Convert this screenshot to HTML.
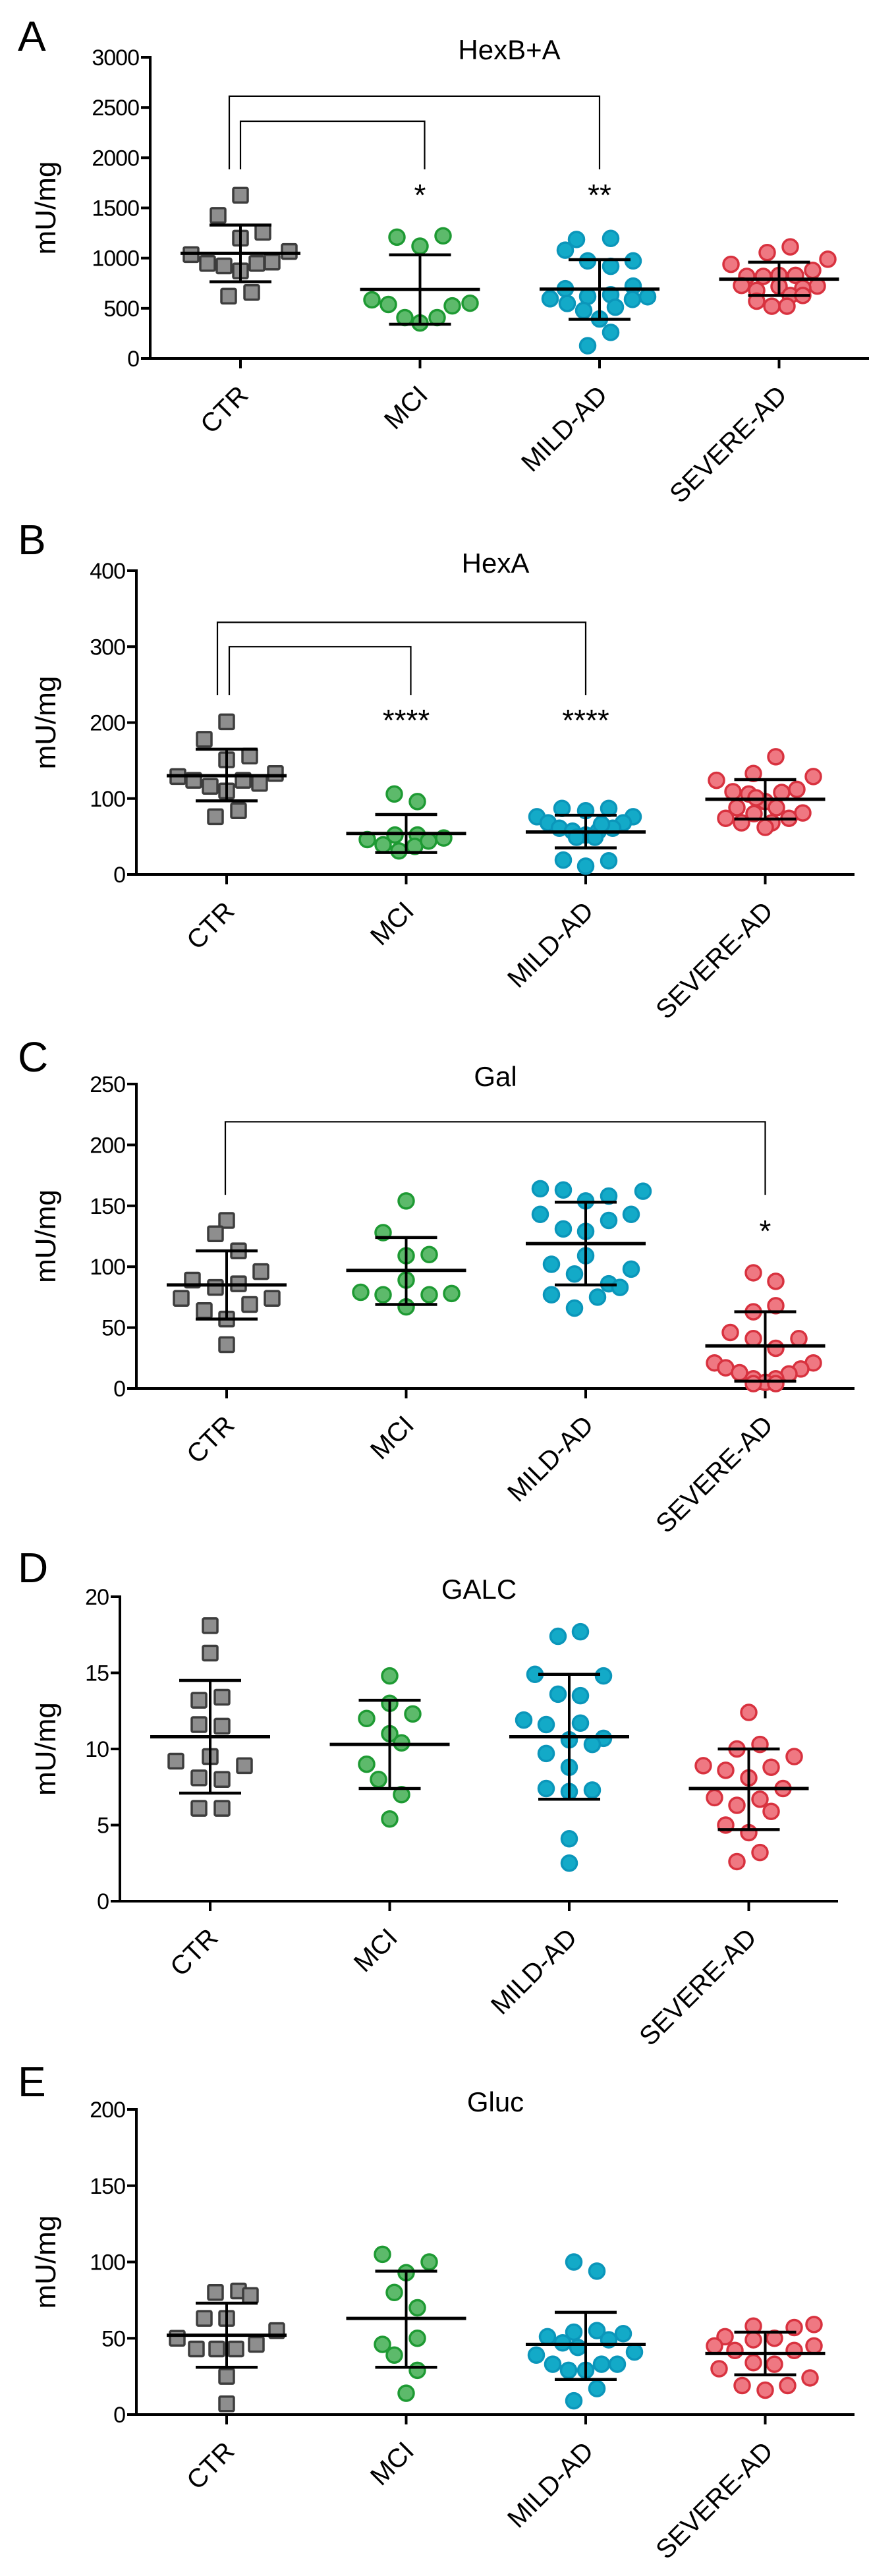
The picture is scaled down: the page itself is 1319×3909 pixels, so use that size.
<!DOCTYPE html>
<html><head><meta charset="utf-8">
<style>
html,body{margin:0;padding:0;background:#fff;}
svg{display:block;font-family:"Liberation Sans",Arial,sans-serif;}
</style></head>
<body>
<svg id="fig" width="1319" height="3909" viewBox="0 0 1319 3909" xmlns="http://www.w3.org/2000/svg"></svg>
<script>
const categories = ["CTR","MCI","MILD-AD","SEVERE-AD"];

// Panel A HexB+A
const aCTR = [1626,1425,1257,1199,1035,1066,947,922,947,960,872,621,658];
const aMCI = [1209,1222,1119,584,538,551,524,407,354,407];
const aMILD = [1186,1196,1079,972,918,972,695,618,635,721,595,615,548,588,478,511,394,260,127];
const aSEV = [1112,1055,938,989,878,818,818,828,828,728,721,678,701,718,628,628,571,521,521];
const aMean = [1048,688,691,790];
const aHi = [1329,1032,985,959];
const aLo = [764,341,391,628];
const aTicks = [0,500,1000,1500,2000,2500,3000];

// Panel B HexA
const bCTR = [201,178,156,151,129,133,124,116,124,120,110,76,84];
const bMCI = [106,96,46,52,52,39,31,37,44,48];
const bMILD = [87,84,87,76,68,76,68,61,57,52,57,61,49,49,19,18,11,66];
const bSEV = [155,133,124,129,109,106,108,112,96,88,80,88,81,74,68,68,74,62,101];
const bMean = [130,54,56,99];
const bHi = [165,79,78,125];
const bLo = [97,29,35,73];
const bTicks = [0,100,200,300,400];

// Panel C Gal
const cCTR = [138,127,113,96,89,83,86,74,74,64,69,57,36];
const cMCI = [154,128,109,110,89,79,77,77,78,67];
const cMILD = [164,163,158,162,154,143,143,131,138,129,109,102,98,94,86,83,77,75,66];
const cSEV = [95,88,63,68,46,41,41,33,21,21,17,16,13,12,8,8,5,4,4];
const cMean = [85,97,119,35];
const cHi = [113,124,153,63];
const cLo = [57,69,85,6];
const cTicks = [0,50,100,150,200,250];

// Panel D GALC
const dCTR = [18.1,16.3,13.2,13.4,11.6,11.5,9.2,9.5,8.9,8.1,8.0,6.1,6.1];
const dMCI = [14.8,13.0,12.3,12.0,11.0,10.4,9.0,8.0,7.0,5.4];
const dMILD = [17.7,17.4,14.9,14.8,13.6,13.5,11.9,11.6,11.7,10.7,10.6,10.3,9.7,8.8,7.4,7.2,7.3,4.1,2.5];
const dSEV = [12.4,10.0,10.3,9.5,8.9,8.6,8.8,8.1,7.4,6.8,6.7,6.3,5.9,5.0,4.5,3.2,2.6];
const dMean = [10.8,10.3,10.8,7.4];
const dHi = [14.5,13.2,14.9,10.0];
const dLo = [7.1,7.4,6.7,4.7];
const dTicks = [0,5,10,15,20];

// Panel E Gluc
const eCTR = [80,81,78,63,63,50,55,43,43,43,46,25,7];
const eMCI = [105,100,93,80,70,46,50,39,29,14];
const eMILD = [100,94,51,54,55,53,47,49,44,39,41,33,33,33,29,29,17,9];
const eSEV = [58,57,59,51,50,49,45,42,42,45,34,33,30,24,19,16,19];
const eMean = [52,63,46,40];
const eHi = [73,94,67,54];
const eLo = [31,31,23,26];
const eTicks = [0,50,100,150,200];

// horizontal jitter (layout only, px)
const jitA = [
 [0,-34,34,0,-75,74,-50,-25,25,48,0,-18,17],
 [-35,35,0,-73,-48,76,49,-23,0,26],
 [-35,17,-52,-18,17,51,-52,-18,17,51,-75,73,-49,50,-24,24,0,17,-18],
 [17,-18,-73,74,51,-49,-24,0,25,-57,58,-34,36,0,17,36,-34,-11,12]];
const jitB = [
 [0,-34,35,0,-74,74,-50,-25,25,50,0,-17,18],
 [-18,17,-59,-17,17,-35,-11,13,34,57],
 [-36,0,35,-74,-57,72,57,-40,-20,0,19,41,-14,14,-34,35,0,24],
 [16,-18,-74,73,-49,-25,25,48,0,-43,-17,17,57,-60,-36,10,36,0,-14]];
const jitC = [
 [0,-17,18,52,-52,-17,18,-69,69,-34,35,0,0],
 [0,-35,0,35,0,-69,-35,35,69,0],
 [-69,-34,35,87,0,-69,69,-34,35,0,0,-52,69,-17,35,52,-52,18,-17],
 [-18,16,-18,16,-53,-18,51,16,-77,73,-60,54,-39,36,-18,16,0,-18,16]];
const jitD = [
 [0,0,-17,18,-17,18,-52,0,52,-17,18,-17,18],
 [0,0,35,-35,0,18,-35,-17,18,0],
 [17,-17,-52,52,-17,17,-69,-35,17,52,0,35,-35,0,-35,0,35,0,0],
 [0,-18,17,69,-69,-35,34,0,52,-52,17,-18,34,-35,0,17,-18]];
const jitE = [
 [-17,18,36,-34,0,-75,76,-46,-15,14,45,0,0],
 [-36,35,0,-18,17,-36,17,-18,17,0],
 [-18,17,-58,-18,17,57,-35,35,-12,-75,74,-50,24,48,-26,0,17,-18],
 [-18,44,74,-61,14,-18,-77,-46,44,74,-18,14,-70,68,-35,0,34]];

const panels = [
 {letter:"A",title:"HexB+A",ax:228,top:87,zero:544,max:3000,ticks:aTicks,data:[aCTR,aMCI,aMILD,aSEV],jit:jitA,mean:aMean,hi:aHi,lo:aLo,letterY:77,right:1319,
  brackets:[{c1:0,c2:1,top:2363,bot:1884,dx:0,stars:"*"},{c1:0,c2:2,top:2613,bot:1884,dx:-17,stars:"**"}],starsY:312},
 {letter:"B",title:"HexA",ax:207,top:866,zero:1327,max:400,ticks:bTicks,data:[bCTR,bMCI,bMILD,bSEV],jit:jitB,mean:bMean,hi:bHi,lo:bLo,letterY:841,right:1297,
  brackets:[{c1:0,c2:1,top:300,bot:236,dx:4,stars:"****"},{c1:0,c2:2,top:332,bot:236,dx:-14,stars:"****"}],starsY:1109},
 {letter:"C",title:"Gal",ax:207,top:1645,zero:2107,max:250,ticks:cTicks,data:[cCTR,cMCI,cMILD,cSEV],jit:jitC,mean:cMean,hi:cHi,lo:cLo,letterY:1626,right:1297,
  brackets:[{c1:0,c2:3,top:219,bot:159,dx:-2,stars:"*"}],starsY:1884},
 {letter:"D",title:"GALC",ax:182,top:2423,zero:2885,max:20,ticks:dTicks,data:[dCTR,dMCI,dMILD,dSEV],jit:jitD,mean:dMean,hi:dHi,lo:dLo,letterY:2401,right:1272,brackets:[]},
 {letter:"E",title:"Gluc",ax:207,top:3201,zero:3664,max:200,ticks:eTicks,data:[eCTR,eMCI,eMILD,eSEV],jit:jitE,mean:eMean,hi:eHi,lo:eLo,letterY:3181,right:1297,brackets:[]}
];

const fills = ["#8e8e8e","#5dba6b","#13aac8","#ef7882"];
const strokes = ["#3d3d3d","#1e9a33","#0b96ba","#d8323f"];
const NS = "http://www.w3.org/2000/svg";
const svg = document.getElementById("fig");
function mk(tag, attrs, parent){
  const e = document.createElementNS(NS, tag);
  for (const k in attrs) e.setAttribute(k, attrs[k]);
  (parent||svg).appendChild(e);
  return e;
}

panels.forEach(function(p, pi){
  const g = mk("g", {});
  
  
  const y = v => p.zero - v / p.max * (p.zero - p.top);
  const x = i => p.ax + 137 + i * 272.5;

  const lt = mk("text", {x:27, y:p.letterY, "font-size":64}, g);
  lt.textContent = p.letter;
  
  

  const tt = mk("text", {x:p.ax + 545, y:p.top + 3, "font-size":42, "text-anchor":"middle"}, g);
  tt.textContent = p.title;
  
  

  const yl = mk("text", {x:0, y:0, "font-size":44, "text-anchor":"middle", transform:"translate(84," + ((p.top + p.zero) / 2) + ") rotate(-90)"}, g);
  yl.textContent = "mU/mg";
  
  

  // axes
  const ya = mk("line", {x1:p.ax, y1:p.top - 2, x2:p.ax, y2:p.zero + 2, stroke:"#000", "stroke-width":4}, g);
  
  
  const xa = mk("line", {x1:p.ax - 2, y1:p.zero, x2:p.right, y2:p.zero, stroke:"#000", "stroke-width":4}, g);
  
  

  p.ticks.forEach(function(t){
    const tl = mk("line", {x1:p.ax - 14, y1:y(t), x2:p.ax, y2:y(t), stroke:"#000", "stroke-width":4}, g);
    
    
    const tx = mk("text", {x:p.ax - 17, y:y(t) + 12, "font-size":34, "text-anchor":"end", "letter-spacing":"-1"}, g);
    tx.textContent = t;
    
    
  });

  categories.forEach(function(c, i){
    const tl = mk("line", {x1:x(i), y1:p.zero, x2:x(i), y2:p.zero + 15, stroke:"#000", "stroke-width":4}, g);
    
    
    const tx = mk("text", {x:0, y:0, "font-size":40, "text-anchor":"end", transform:"translate(" + (x(i) + 14) + "," + (p.zero + 58) + ") rotate(-45)"}, g);
    tx.textContent = c;
    
    
  });

  // points
  p.data.forEach(function(vals, gi){
    vals.forEach(function(v, k){
      const cx = x(gi) + (p.jit[gi][k] || 0);
      const cy = y(v);
      let m;
      if (gi === 0) {
        m = mk("rect", {x:cx - 11, y:cy - 11, width:22, height:22, rx:2, fill:fills[0], stroke:strokes[0], "stroke-width":3.5}, g);
      } else {
        m = mk("circle", {cx:cx, cy:cy, r:11.5, fill:fills[gi], stroke:strokes[gi], "stroke-width":3.5}, g);
      }
      
      
    });
  });

  // mean & sd
  categories.forEach(function(c, i){
    const cx = x(i);
    const v = mk("line", {x1:cx, y1:y(p.hi[i]), x2:cx, y2:y(p.lo[i]), stroke:"#000", "stroke-width":4}, g);
    
    
    [p.hi[i], p.lo[i]].forEach(function(val){
      const cap = mk("line", {x1:cx - 47, y1:y(val), x2:cx + 47, y2:y(val), stroke:"#000", "stroke-width":4.5}, g);
      
      
    });
    const mn = mk("line", {x1:cx - 91, y1:y(p.mean[i]), x2:cx + 91, y2:y(p.mean[i]), stroke:"#000", "stroke-width":5}, g);
    
    
  });

  // significance brackets
  p.brackets.forEach(function(b){
    const xl = x(b.c1) + b.dx, xr = x(b.c2) + (b.c2 === 1 ? 7 : 0);
    const br = mk("polyline", {points: xl + "," + y(b.bot) + " " + xl + "," + y(b.top) + " " + xr + "," + y(b.top) + " " + xr + "," + y(b.bot), fill:"none", stroke:"#000", "stroke-width":2.2}, g);
    
    
    const st = mk("text", {x:x(b.c2), y:p.starsY, "font-size":46, "text-anchor":"middle"}, g);
    st.textContent = b.stars;
    
    
  });
});
</script>
</body></html>
